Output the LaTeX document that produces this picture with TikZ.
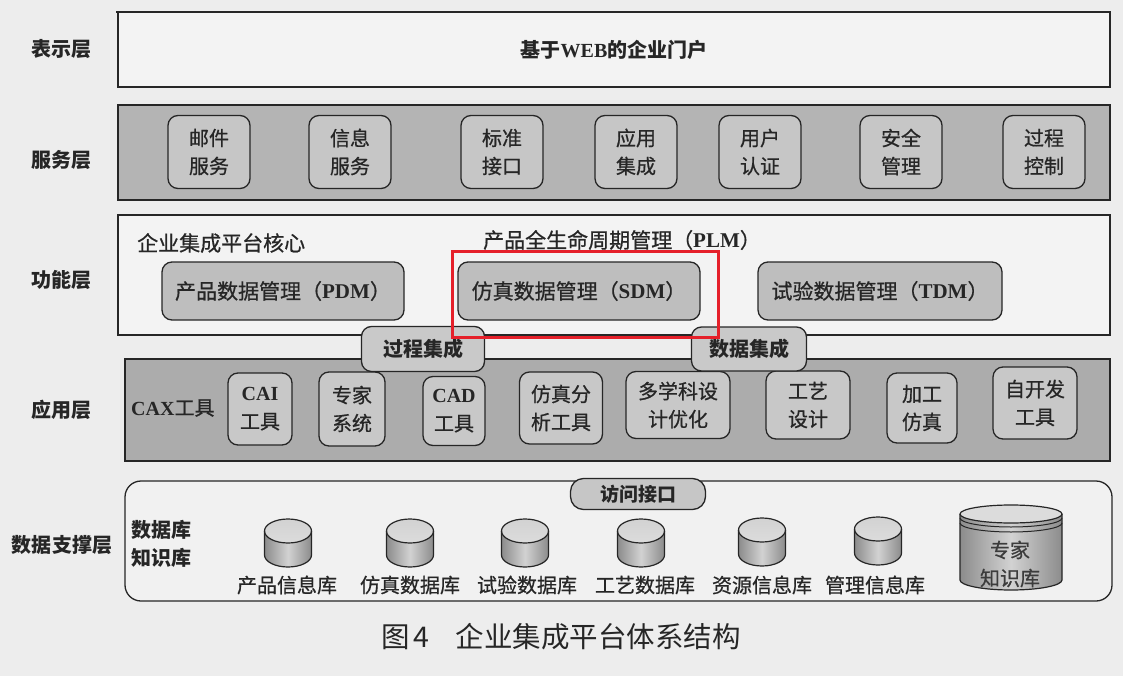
\documentclass[tikz,border=0pt]{standalone}
\usepackage{fontspec}
\setmainfont{Liberation Serif}
\newfontfamily\cjk{Noto Sans CJK SC}
\newfontfamily\cjkm[FakeBold=0.7]{Noto Sans CJK SC}
\newfontfamily\lat{Liberation Serif}
\definecolor{paper}{HTML}{EDEDED}
\definecolor{ink}{HTML}{262626}
\definecolor{svcband}{HTML}{B4B4B4}
\definecolor{svcbox}{HTML}{C6C6C6}
\definecolor{funband}{HTML}{F3F3F3}
\definecolor{funbox}{HTML}{BEBEBE}
\definecolor{appband}{HTML}{ACACAC}
\definecolor{appbox}{HTML}{C8C8C8}
\definecolor{intbox}{HTML}{C9C9C9}
\definecolor{databand}{HTML}{F1F1F1}
\definecolor{dbtop}{HTML}{DCDCDC}
\definecolor{dbdark}{HTML}{8C8C8C}
\definecolor{dblight}{HTML}{D2D2D2}
\definecolor{hilite}{HTML}{E5202A}
\tikzset{
  layerlabel/.style={font=\cjk\bfseries\fontsize{20}{22}\selectfont, text=ink},
  band/.style={draw=ink, line width=1.3pt, inner sep=0pt},
  cell/.style={draw=ink, line width=1.3pt, rounded corners=10pt, align=center,
    inner sep=0pt, text=ink, font=\cjkm\fontsize{20}{28}\selectfont},
  svc/.style={cell, fill=svcbox, minimum width=82pt, minimum height=73pt},
  fun/.style={cell, fill=funbox, minimum height=58pt, font=\cjkm\fontsize{21}{24}\selectfont},
  app/.style={cell, fill=appbox},
  integ/.style={cell, fill=intbox, font=\cjk\bfseries\fontsize{20}{22}\selectfont},
  plain/.style={text=ink, font=\cjkm\fontsize{21}{24}\selectfont, inner sep=0pt},
  dblabel/.style={text=ink, font=\cjkm\fontsize{20}{22}\selectfont, inner sep=0pt},
  % database drum seen from slightly above
  dbcyl/.pic={
    \shade[left color=dbdark, right color=dbdark, middle color=dblight]
      (-23.5,-12) -- (-23.5,12) arc[start angle=180, end angle=0, x radius=23.5, y radius=12]
      -- (23.5,-12) -- cycle;
    \shade[top color=dblight, bottom color=dbtop] (0,-12) ellipse[x radius=23.5, y radius=12];
    \draw[ink, line width=1.2pt] (-23.5,-12) -- (-23.5,12)
      arc[start angle=180, end angle=0, x radius=23.5, y radius=12] -- (23.5,-12);
    \draw[ink, line width=1.2pt] (0,-12) ellipse[x radius=23.5, y radius=12];
    \coordinate (-c) at (0,0);
  },
}
\begin{document}
\begin{tikzpicture}[x=1pt,y=-1pt]
\fill[paper] (0,0) rectangle (1123,676);
\useasboundingbox (0,0) rectangle (1123,676);

% layer names on the left
\node[layerlabel] (l1) at (61,49)  {表示层};
\node[layerlabel] (l2) at (61,160) {服务层};
\node[layerlabel] (l3) at (61,280) {功能层};
\node[layerlabel] (l4) at (61,410) {应用层};
\node[layerlabel] (l5) at (62,545) {数据支撑层};

% presentation layer
\draw[ink, line width=2.2pt] (116,12) -- (1111,12);
\node[band, fill=funband, minimum width=992pt, minimum height=75pt,
      font=\cjk\bfseries\fontsize{20}{22}\selectfont, text=ink]
  (pres) at (614,49.5) {基于{\lat\bfseries WEB}的企业门户};

% service layer
\node[band, fill=svcband, minimum width=992pt, minimum height=95pt] (svc) at (614,152.5) {};
\node[svc] (s1) at (209,152)  {邮件\\服务};
\node[svc] (s2) at (350,152)  {信息\\服务};
\node[svc] (s3) at (502,152)  {标准\\接口};
\node[svc] (s4) at (636,152)  {应用\\集成};
\node[svc] (s5) at (760,152)  {用户\\认证};
\node[svc] (s6) at (901,152)  {安全\\管理};
\node[svc] (s7) at (1044,152) {过程\\控制};

% function layer
\node[band, fill=funband, minimum width=992pt, minimum height=120pt] (fun) at (614,275) {};
\node[plain, anchor=west] (core) at (137,243) {企业集成平台核心};
\node[plain, anchor=west] (plm)  at (483,240) {产品全生命周期管理（{\lat\bfseries PLM}）};
\node[fun, minimum width=242pt] (pdm) at (283,291) {产品数据管理（{\lat\bfseries PDM}）};
\node[fun, minimum width=242pt] (sdm) at (579,291) {仿真数据管理（{\lat\bfseries SDM}）};
\node[fun, minimum width=244pt] (tdm) at (880,291) {试验数据管理（{\lat\bfseries TDM}）};

% application layer
\node[band, fill=appband, minimum width=985pt, minimum height=102pt] (app) at (617.5,410) {};
\node[plain, anchor=west, font=\cjkm\fontsize{20}{22}\selectfont] (cax) at (131,408) {{\lat\bfseries CAX}工具};
\node[app, minimum width=64pt,  minimum height=72pt] (a1) at (260,409)  {{\lat\bfseries CAI}\\工具};
\node[app, minimum width=66pt,  minimum height=74pt] (a2) at (352,409)  {专家\\系统};
\node[app, minimum width=62pt,  minimum height=69pt] (a3) at (454,411)  {{\lat\bfseries CAD}\\工具};
\node[app, minimum width=83pt,  minimum height=72pt] (a4) at (561,408)  {仿真分\\析工具};
\node[app, minimum width=104pt, minimum height=67pt] (a5) at (678,405)  {多学科设\\计优化};
\node[app, minimum width=84pt,  minimum height=68pt] (a6) at (808,405)  {工艺\\设计};
\node[app, minimum width=70pt,  minimum height=70pt] (a7) at (922,408)  {加工\\仿真};
\node[app, minimum width=84pt,  minimum height=72pt] (a8) at (1035,403) {自开发\\工具};

% integration tabs between function and application layers
\node[integ, minimum width=123pt, minimum height=45pt] (pint) at (423,349) {过程集成};
\node[integ, minimum width=115pt, minimum height=44pt] (dint) at (749,349) {数据集成};

% data support layer
\node[band, fill=databand, rounded corners=16pt, minimum width=987pt, minimum height=120pt] (data) at (618.5,541) {};
\node[integ, fill=svcbox, rounded corners=13pt, minimum width=135pt, minimum height=31pt,
      font=\cjk\bfseries\fontsize{19}{20}\selectfont] (acc) at (638,494) {访问接口};
\node[plain, align=left, font=\cjk\bfseries\fontsize{20}{28}\selectfont, anchor=west]
  (kinds) at (131,544) {数据库\\知识库};

\pic (d1) at (288,543) {dbcyl};
\pic (d2) at (410,543) {dbcyl};
\pic (d3) at (525,543) {dbcyl};
\pic (d4) at (641,543) {dbcyl};
\pic (d5) at (762,542) {dbcyl};
\pic (d6) at (878,541) {dbcyl};
\node[dblabel] (t1) at (287,585) {产品信息库};
\node[dblabel] (t2) at (410,585) {仿真数据库};
\node[dblabel] (t3) at (527,585) {试验数据库};
\node[dblabel] (t4) at (645,585) {工艺数据库};
\node[dblabel] (t5) at (762,585) {资源信息库};
\node[dblabel] (t6) at (875,585) {管理信息库};

% expert knowledge base: a wide drum with a double rim
\shade[left color=dbdark, right color=dbdark, middle color=dblight]
  (960,514) -- (960,580) arc[start angle=180, end angle=0, x radius=51, y radius=10]
  -- (1062,514) -- cycle;
\fill[dbtop] (1011,514) ellipse[x radius=51, y radius=9];
\draw[ink, line width=1.2pt] (960,514) -- (960,580) arc[start angle=180, end angle=0, x radius=51, y radius=10]
  -- (1062,514);
\draw[ink, line width=1.2pt] (1011,514) ellipse[x radius=51, y radius=9];
\draw[ink, line width=1pt] (960,518) arc[start angle=180, end angle=0, x radius=51, y radius=9];
\draw[ink, line width=1pt] (960,523) arc[start angle=180, end angle=0, x radius=51, y radius=9];
\node[dblabel, align=center, text=ink!90, font=\cjkm\fontsize{20}{28}\selectfont] (kb) at (1010,564) {专家\\知识库};

% highlight frame around SDM
\draw[hilite, line width=3pt] (452,251) rectangle (718,337);

% caption
\node[text=ink, font=\cjk\fontsize{28.5}{30}\selectfont, inner sep=0pt, anchor=west] (cap) at (381,637)
  {图\hspace{4pt}4\hspace{26pt}企业集成平台体系结构};
\end{tikzpicture}
\end{document}
